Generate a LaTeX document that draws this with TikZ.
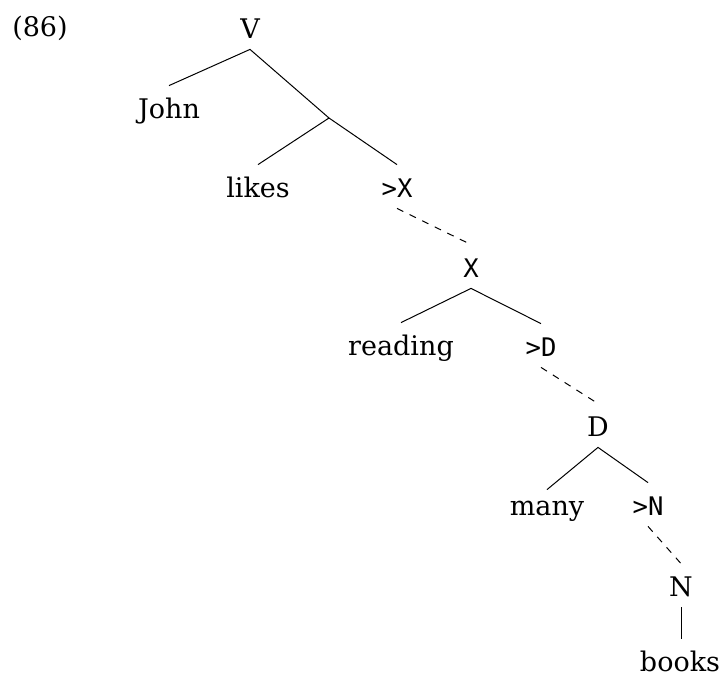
\documentclass[tikz,border=0pt]{standalone}
\usepackage{fontspec}
\setmainfont{DejaVu Serif}
\setmonofont{DejaVu Sans Mono}
\begin{document}
\begin{tikzpicture}[x=0.5pt,y=-0.5pt,
  lab/.style={font=\fontsize{13.5}{16}\selectfont, text height=10.5pt, text depth=0pt, inner xsep=0pt, inner ysep=5.5pt, anchor=base},
  tlab/.style={lab, font=\ttfamily\fontsize{12.8}{15}\selectfont},
  edge/.style={line width=0.5pt},
  dedge/.style={edge, dash pattern=on 3.5pt off 3.5pt}]
\useasboundingbox (0,0) rectangle (724,675);
\node[lab] (ex) at (40,36) {(86)};
\node[lab] (V) at (250,38) {V};
\node[lab] (John) at (169,118) {John};
\coordinate (j1) at (329,118);
\node[lab] (likes) at (258,197) {likes};
\node[tlab] (gX) at (397,197) {>X};
\node[tlab] (X) at (471,277) {X};
\node[lab] (reading) at (401,355) {reading};
\node[tlab] (gD) at (541,356) {>D};
\node[lab] (D) at (598,436) {D};
\node[lab,text height=7pt] (many) at (547,515) {many};
\node[tlab] (gN) at (648,515) {>N};
\node[lab] (N) at (681,596) {N};
\node[lab] (books) at (680,671) {books};
\draw[edge] (John.north) -- (V.south) -- (j1) -- (gX.north);
\draw[edge] (j1) -- (likes.north);
\draw[dedge] (gX.south) -- (X.north);
\draw[edge] (reading.north) -- (X.south) -- (gD.north);
\draw[dedge] (gD.south) -- (D.north);
\draw[edge] (many.north) -- (D.south) -- (gN.north);
\draw[dedge] (gN.south) -- (N.north);
\draw[edge] (N.south) -- (N.south |- books.north);
\end{tikzpicture}
\end{document}
